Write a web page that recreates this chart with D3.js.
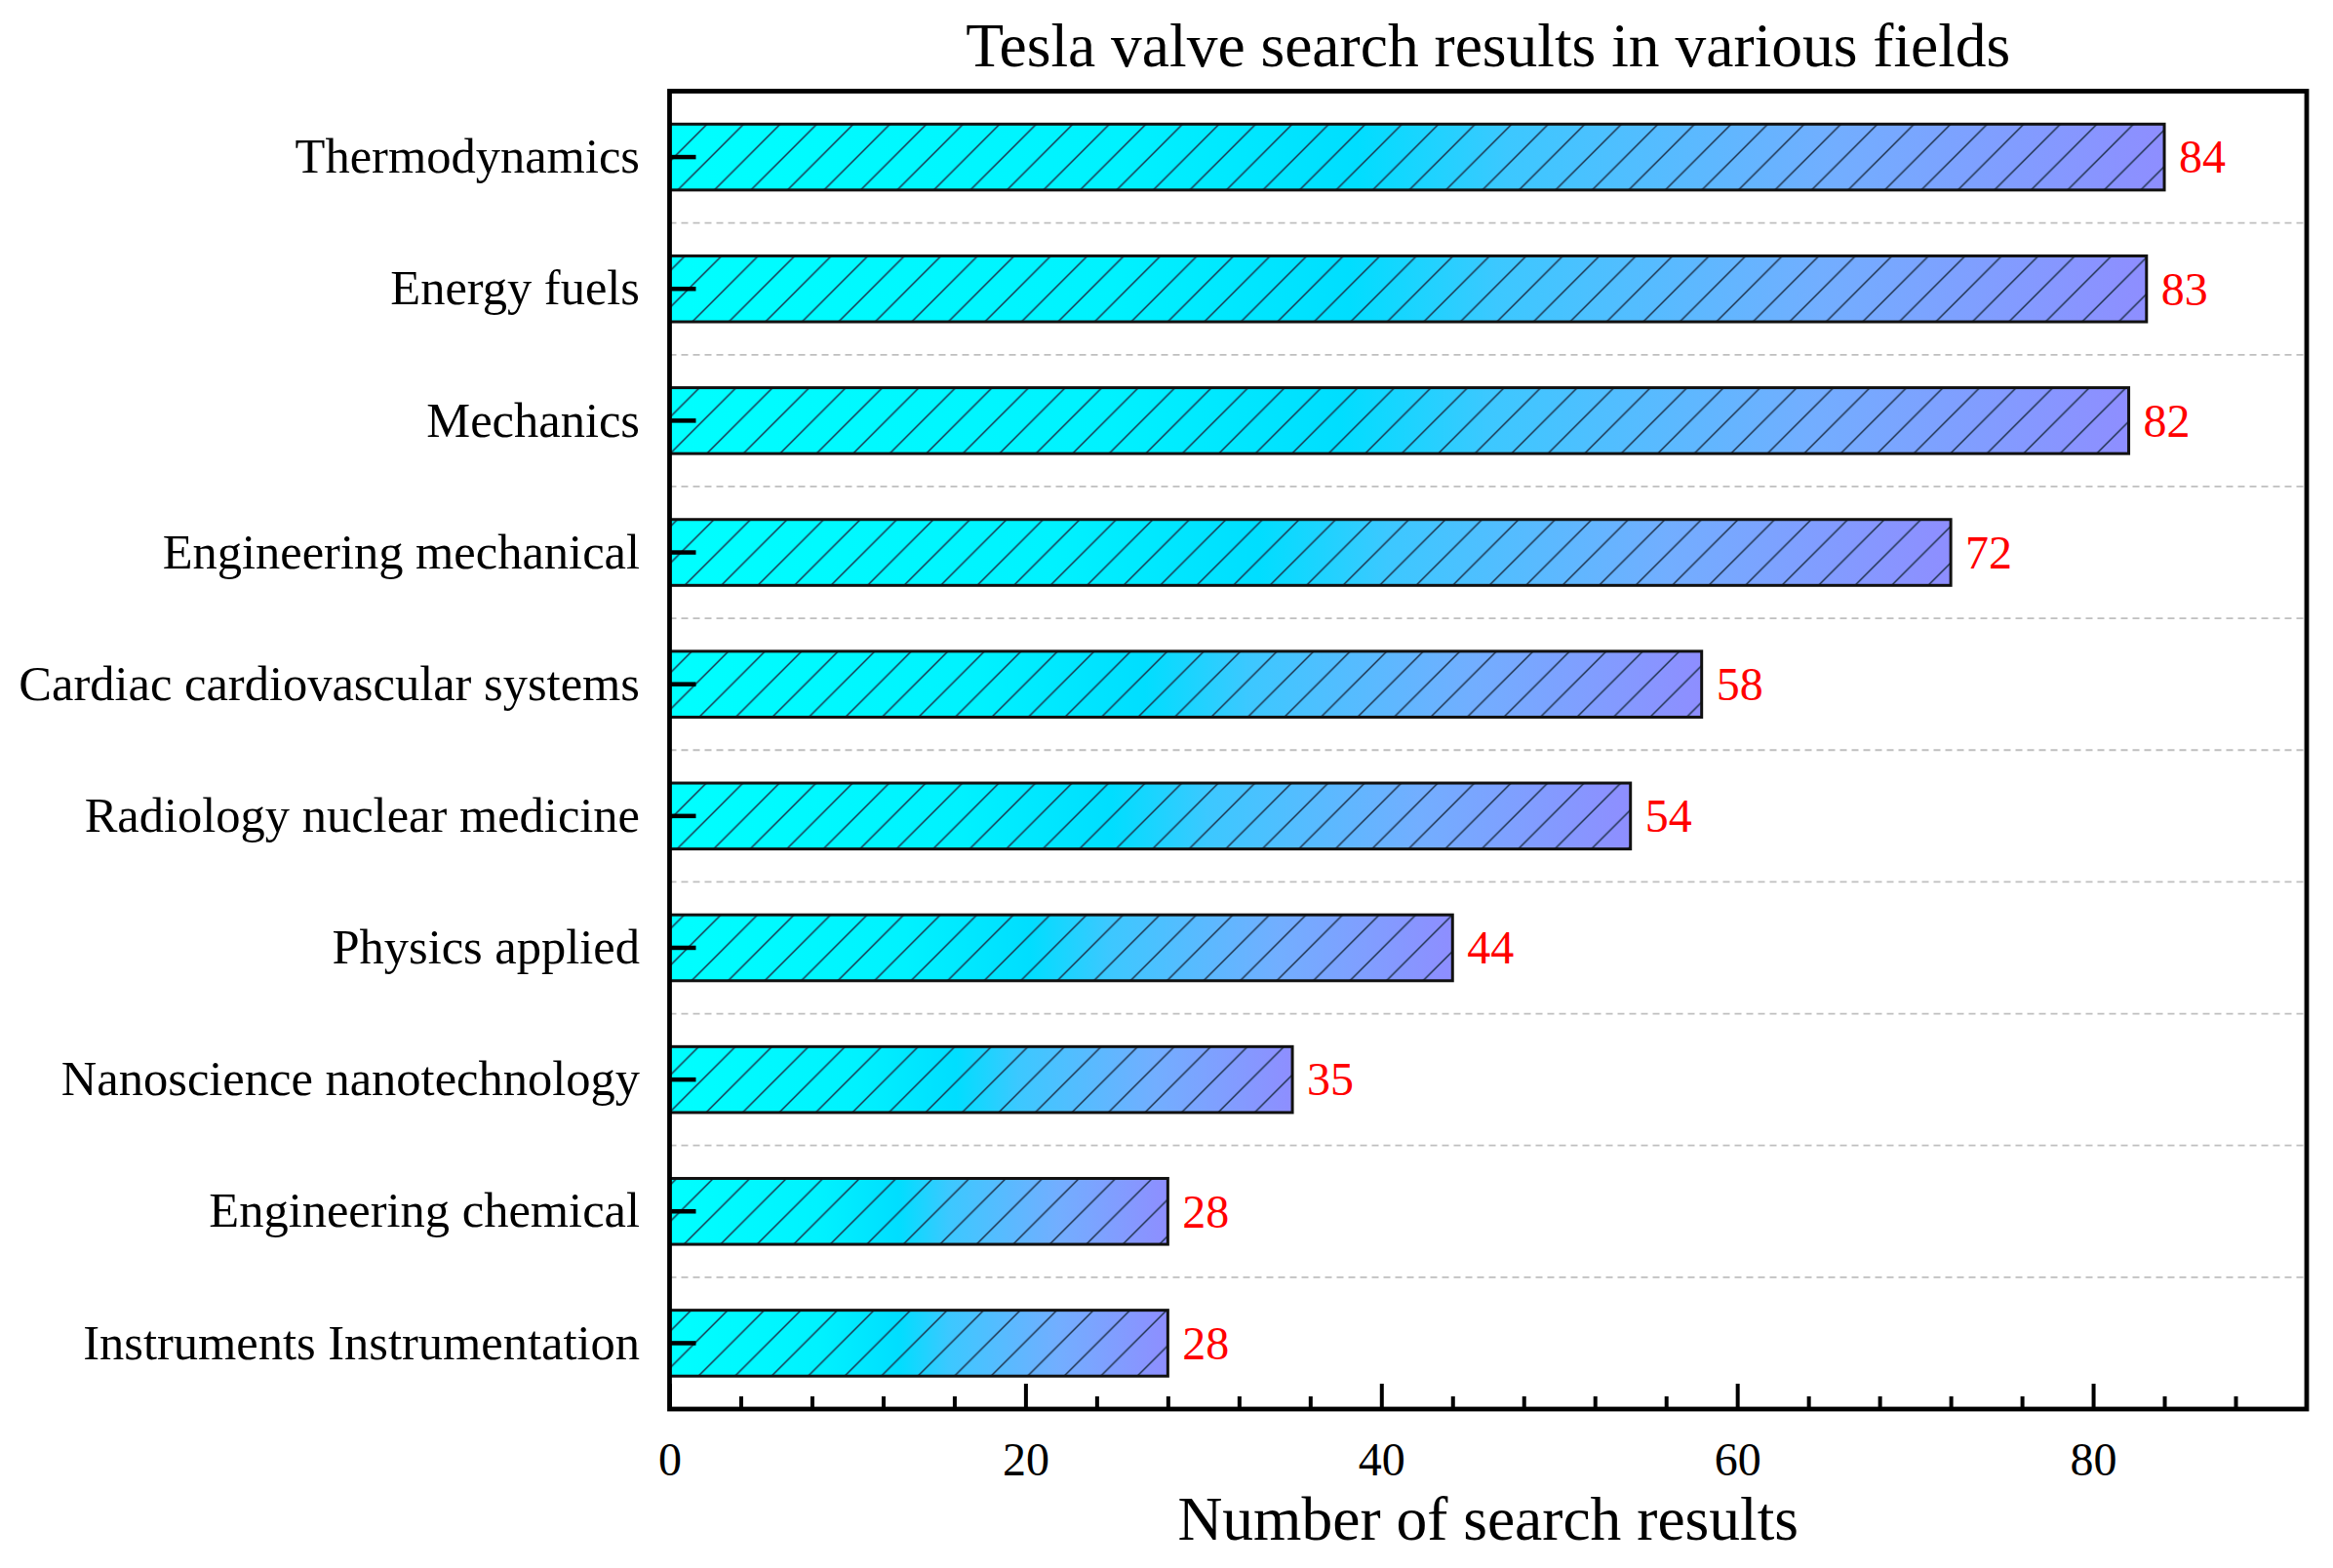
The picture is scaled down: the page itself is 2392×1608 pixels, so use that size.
<!DOCTYPE html>
<html>
<head>
<meta charset="utf-8">
<script src="https://cdn.jsdelivr.net/npm/d3@7"></script>
<style>
  html, body { margin: 0; padding: 0; background: #fff; }
  svg { display: block; }
  text { font-family: "Liberation Serif", "Times New Roman", serif; }
</style>
</head>
<body>
<svg id="chart" width="2392" height="1608"></svg>
<script>
const categories = [
  "Thermodynamics",
  "Energy fuels",
  "Mechanics",
  "Engineering mechanical",
  "Cardiac cardiovascular systems",
  "Radiology nuclear medicine",
  "Physics applied",
  "Nanoscience nanotechnology",
  "Engineering chemical",
  "Instruments Instrumentation"
];
const values = [84, 83, 82, 72, 58, 54, 44, 35, 28, 28];
const majorTicks = [0, 20, 40, 60, 80];
const minorTicks = [4, 8, 12, 16, 24, 28, 32, 36, 44, 48, 52, 56, 64, 68, 72, 76, 84, 88];
const xMax = 92;
const titleText = "Tesla valve search results in various fields";
const xTitleText = "Number of search results";

const plotLeft = 686.5, plotRight = 2365, plotTop = 93.5, plotBottom = 1445;

const svg = d3.select("#chart");
const defs = svg.append("defs");

// gradient per bar (object bounding box)
const grad = defs.append("linearGradient").attr("id", "barGrad")
  .attr("x1", "0").attr("y1", "0").attr("x2", "1").attr("y2", "0");
[[0, "#00FFFF"], [0.3, "#00F2FF"], [0.46, "#00DEFF"], [0.56, "#3CC8FF"], [0.78, "#72AEFF"], [1, "#8E8EFF"]]
  .forEach(([o, c]) => grad.append("stop").attr("offset", o).attr("stop-color", c));

// hatch pattern "/"
const hs = 37.5;
const pat = defs.append("pattern").attr("id", "hatch")
  .attr("patternUnits", "userSpaceOnUse")
  .attr("x", -10.2).attr("y", 0)
  .attr("width", hs).attr("height", hs);
pat.append("path")
  .attr("d", `M${-hs/4},${hs/4} L${hs/4},${-hs/4} M0,${hs} L${hs},0 M${hs*0.75},${hs*1.25} L${hs*1.25},${hs*0.75}`)
  .attr("stroke", "#1b2d45").attr("stroke-width", 1.4).attr("fill", "none");

const x = d3.scaleLinear().domain([0, xMax]).range([plotLeft, plotRight]);
const y = d3.scaleBand().domain(categories).range([plotTop, plotBottom])
  .paddingInner(0.5).paddingOuter(0.25);

// grid lines between bands
const step = y.step();
const boundaries = categories.slice(1).map(c => y(c) - y.paddingInner() * step / 2);
svg.append("g").selectAll("line").data(boundaries).join("line")
  .attr("x1", plotLeft).attr("x2", plotRight)
  .attr("y1", d => d).attr("y2", d => d)
  .attr("stroke", "#bfbfbf").attr("stroke-width", 1.8)
  .attr("stroke-dasharray", "7,5");

// bars
const data = categories.map((c, i) => ({ c, v: values[i] }));
const bars = svg.append("g");
bars.selectAll("rect.fill").data(data).join("rect").attr("class", "fill")
  .attr("x", x(0)).attr("y", d => y(d.c))
  .attr("width", d => x(d.v) - x(0)).attr("height", y.bandwidth())
  .attr("fill", "url(#barGrad)");
bars.selectAll("rect.hatch").data(data).join("rect").attr("class", "hatch")
  .attr("x", x(0)).attr("y", d => y(d.c))
  .attr("width", d => x(d.v) - x(0)).attr("height", y.bandwidth())
  .attr("fill", "url(#hatch)")
  .attr("stroke", "#111").attr("stroke-width", 3);

// value labels
svg.append("g").selectAll("text").data(data).join("text")
  .attr("x", d => x(d.v) + 15)
  .attr("y", d => y(d.c) + y.bandwidth() / 2)
  .attr("dy", "0.34em")
  .attr("fill", "#FF0000")
  .attr("font-size", 48)
  .text(d => d.v);

// x axis (bottom) - major with labels
const xAxisG = svg.append("g").attr("transform", `translate(0,${plotBottom})`)
  .call(d3.axisBottom(x).tickValues(majorTicks).tickSizeInner(-26).tickSizeOuter(0).tickPadding(34).tickFormat(d3.format("d")));
xAxisG.select(".domain").remove();
xAxisG.selectAll(".tick line").attr("stroke", "#000").attr("stroke-width", 4);
xAxisG.selectAll(".tick text").attr("font-size", 48).attr("fill", "#000")
  .attr("font-family", "Liberation Serif, Times New Roman, serif");

const xMinorG = svg.append("g").attr("transform", `translate(0,${plotBottom})`)
  .call(d3.axisBottom(x).tickValues(minorTicks).tickSizeInner(-13).tickSizeOuter(0).tickFormat(""));
xMinorG.select(".domain").remove();
xMinorG.selectAll(".tick line").attr("stroke", "#000").attr("stroke-width", 4);

// y axis (left)
const yAxisG = svg.append("g").attr("transform", `translate(${plotLeft},0)`)
  .call(d3.axisLeft(y).tickSizeInner(-27).tickSizeOuter(0).tickPadding(30.5));
yAxisG.select(".domain").remove();
yAxisG.selectAll(".tick line").attr("stroke", "#000").attr("stroke-width", 4.5);
yAxisG.selectAll(".tick text").attr("font-size", 50.5).attr("fill", "#000")
  .attr("dy", "0.32em")
  .attr("font-family", "Liberation Serif, Times New Roman, serif");

// frame
svg.append("rect")
  .attr("x", plotLeft).attr("y", plotTop)
  .attr("width", plotRight - plotLeft).attr("height", plotBottom - plotTop)
  .attr("fill", "none").attr("stroke", "#000").attr("stroke-width", 4.8);

// titles
svg.append("text")
  .attr("x", (plotLeft + plotRight) / 2).attr("y", 68)
  .attr("text-anchor", "middle").attr("font-size", 63.5).attr("fill", "#000")
  .text(titleText);
svg.append("text")
  .attr("x", (plotLeft + plotRight) / 2).attr("y", 1579)
  .attr("text-anchor", "middle").attr("font-size", 63.5).attr("fill", "#000")
  .text(xTitleText);
</script>
</body>
</html>
